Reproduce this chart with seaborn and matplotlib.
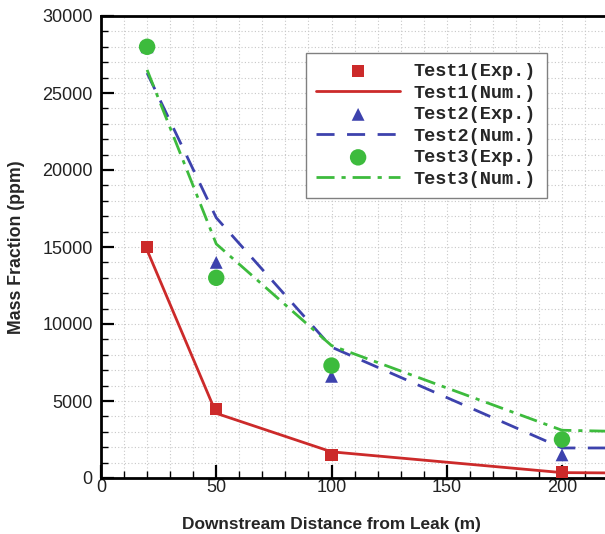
import matplotlib
matplotlib.use("Agg")
import matplotlib.pyplot as plt
from matplotlib.ticker import MultipleLocator
import seaborn as sns
import pandas as pd

# Measured concentrations (experiments)
exp_x = [20, 50, 100, 200]
test1_exp = [15000, 4500, 1500, 400]
test2_exp = [28000, 14000, 6600, 1500]
test3_exp = [28000, 13000, 7300, 2500]

# Simulated concentrations (numerical)
num_x = [20, 50, 100, 200, 250]
test1_num = [14800, 4200, 1700, 350, 300]
test2_num = [26300, 16900, 8500, 1950, 1950]
test3_num = [26500, 15200, 8600, 3100, 2950]

x_label = "Downstream Distance from Leak (m)"
y_label = "Mass Fraction (ppm)"

RED = "#cc2a2a"
BLUE = "#3d42ad"
GREEN = "#3dbb3d"

sns.set_theme(style="white")
plt.rcParams["font.family"] = ["Liberation Sans", "DejaVu Sans"]

W, H = 605, 534
fig = plt.figure(figsize=(W / 100, H / 100), dpi=100)
left_px, bottom_px, top_px = 101, 478, 16
unit_px = (562 - 101) / 200.0
xmax = (W - left_px) / unit_px
ax = fig.add_axes([left_px / W, 1 - bottom_px / H,
                   (W - left_px) / W, (bottom_px - top_px) / H])

exp_df = pd.DataFrame({"x": exp_x, "t1": test1_exp, "t2": test2_exp, "t3": test3_exp})
num_df = pd.DataFrame({"x": num_x, "t1": test1_num, "t2": test2_num, "t3": test3_num})

sns.lineplot(data=num_df, x="x", y="t1", ax=ax, color=RED, lw=2.0, label="Test1(Num.)")
sns.lineplot(data=num_df, x="x", y="t2", ax=ax, color=BLUE, lw=2.0, label="Test2(Num.)")
sns.lineplot(data=num_df, x="x", y="t3", ax=ax, color=GREEN, lw=2.0, label="Test3(Num.)")
lines = ax.get_lines()
lines[1].set_dashes([6.5, 4.5])
lines[2].set_dashes([6.5, 2.5, 1.5, 2.5])

sns.scatterplot(data=exp_df, x="x", y="t1", ax=ax, color=RED, marker="s", s=75,
                edgecolor="none", label="Test1(Exp.)", zorder=4)
sns.scatterplot(data=exp_df, x="x", y="t2", ax=ax, color=BLUE, marker="^", s=85,
                edgecolor="none", label="Test2(Exp.)", zorder=4)
sns.scatterplot(data=exp_df, x="x", y="t3", ax=ax, color=GREEN, marker="o", s=140,
                edgecolor="none", label="Test3(Exp.)", zorder=5)

ax.set_xlim(0, xmax)
ax.set_ylim(0, 30000)
ax.xaxis.set_major_locator(MultipleLocator(50))
ax.xaxis.set_minor_locator(MultipleLocator(10))
ax.yaxis.set_major_locator(MultipleLocator(5000))
ax.yaxis.set_minor_locator(MultipleLocator(1000))

ax.grid(which="both", color="#c8c8c8", linestyle=(0, (1, 2)), linewidth=0.8)
ax.set_axisbelow(True)

for s in ax.spines.values():
    s.set_linewidth(2.0)
    s.set_color("black")
ax.spines["right"].set_visible(False)

ax.tick_params(which="major", direction="in", length=9.5, width=1.6, color="black",
               labelsize=13, labelcolor="#222222")
ax.tick_params(which="minor", direction="in", length=5, width=1.0, color="black")
ax.tick_params(axis="x", which="both", bottom=True, top=False, pad=1)
ax.tick_params(axis="y", which="both", left=True, right=False, pad=6)

ax.set_xlabel(x_label, fontsize=12.4, fontweight="bold")
ax.set_ylabel(y_label, fontsize=12.8, fontweight="bold")
ax.xaxis.set_label_coords(331 / W, 1 - 524 / H, transform=fig.transFigure)
ax.yaxis.set_label_coords(17 / W, 1 - 247 / H, transform=fig.transFigure)
ax.xaxis.label.set_va("center")
ax.yaxis.label.set_va("center")

handles, labels = ax.get_legend_handles_labels()
order = ["Test1(Exp.)", "Test1(Num.)", "Test2(Exp.)", "Test2(Num.)",
         "Test3(Exp.)", "Test3(Num.)"]
hmap = dict(zip(labels, handles))
leg = ax.legend([hmap[k] for k in order], order,
                loc="upper left", bbox_to_anchor=(306 / W, 1 - 53 / H),
                bbox_transform=fig.transFigure, borderaxespad=0,
                prop={"family": "Liberation Mono", "weight": "bold", "size": 13.4},
                fancybox=False, framealpha=1, edgecolor="#808080",
                handlelength=4.5, labelspacing=0.24, borderpad=0.55,
                handletextpad=0.75)
leg.get_frame().set_linewidth(1.0)

fig.savefig("out.png", dpi=100)
